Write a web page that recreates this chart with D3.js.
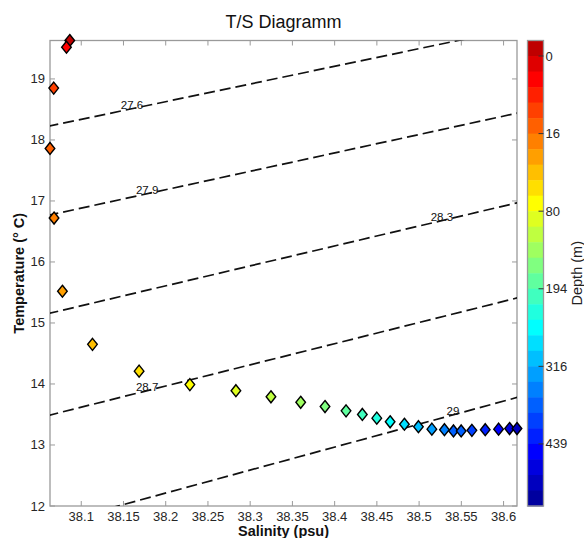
<!DOCTYPE html>
<meta charset="utf-8">
<html>
  <head>
    <style>
      body { margin: 0; background: #fff; }
      text { font-family: "Liberation Sans", Arial, Helvetica, sans-serif; }
      .tick-label { font-size: 13px; fill: #262626; }
      .frame { fill: none; stroke: #9a9a9a; stroke-width: 1.3px; }
      .tick { stroke: #9a9a9a; stroke-width: 1px; }
      .iso { fill: none; stroke: #111; stroke-width: 1.7px; stroke-dasharray: 11,5; }
      .iso-label { font-size: 11.5px; fill: #111; text-anchor: middle; }
      .marker { stroke: #000; stroke-width: 1.4px; }
    </style>
    <script src="https://d3js.org/d3.v7.min.js"></script>
  </head>
  <body>
    <div id="chart"></div>
    <script type="text/javascript">
      // CTD profile
      var salinity = [38.0864, 38.0825, 38.0674, 38.0630, 38.0678, 38.0777, 38.1133, 38.1685,
                      38.2286, 38.2831, 38.3246, 38.3598, 38.3886, 38.4135, 38.4328, 38.4499,
                      38.4657, 38.4826, 38.4992, 38.5151, 38.5300, 38.5407, 38.5498, 38.5625,
                      38.5783, 38.5941, 38.6071, 38.6159];
      var temperature = [19.63, 19.52, 18.85, 17.86, 16.72, 15.52, 14.65, 14.21,
                         13.99, 13.89, 13.79, 13.70, 13.63, 13.56, 13.50, 13.44,
                         13.38, 13.34, 13.30, 13.26, 13.25, 13.23, 13.23, 13.24,
                         13.25, 13.26, 13.27, 13.27];
      var depth = [0, 5, 11, 15, 25, 40, 50, 65,
                   78, 100, 120, 145, 165, 190, 210, 235,
                   260, 285, 310, 335, 360, 370, 388, 405,
                   425, 445, 470, 495];

      // isopycnals (straight over this range): T at both ends of the salinity span
      var isoLabels = ["27.6", "27.9", "28.3", "28.7", "29"];
      var isoSal = [38.06, 38.62];
      var isoTempLeft = [18.222, 16.762, 15.151, 13.481, 11.685];
      var isoTempRight = [19.844, 18.451, 16.982, 15.424, 13.794];
      var isoLabelSal = [38.160, 38.178, 38.527, 38.178, 38.540];

      var xTicks = [38.1, 38.15, 38.2, 38.25, 38.3, 38.35, 38.4, 38.45, 38.5, 38.55, 38.6];
      var yTicks = [12, 13, 14, 15, 16, 17, 18, 19];
      var depthTicks = [0, 16, 80, 194, 316, 439];
      var nColors = 30;

      var W = 584, H = 538,
          plot = { left: 50, right: 517, top: 40.5, bottom: 506 },
          cbar = { left: 527.5, right: 543.5 };

      // MATLAB jet(m), row 0 = dark blue
      function jet(m) {
        var n = Math.ceil(m / 4), u = [], i;
        for (i = 1; i <= n; i++) u.push(i / n);
        for (i = 1; i < n; i++) u.push(1);
        for (i = n; i >= 1; i--) u.push(i / n);
        var g0 = Math.ceil(n / 2) - (m % 4 === 1 ? 1 : 0);
        var rows = d3.range(m).map(function() { return [0, 0, 0]; });
        u.forEach(function(v, k) {
          var g = g0 + k + 1, r = g + n, b = g - n;
          if (r >= 1 && r <= m) rows[r - 1][0] = v;
          if (g >= 1 && g <= m) rows[g - 1][1] = v;
          if (b >= 1 && b <= m) rows[b - 1][2] = v;
        });
        return rows.map(function(c) { return d3.rgb(c[0] * 255, c[1] * 255, c[2] * 255).toString(); });
      }
      var jetColors = jet(nColors);

      var x = d3.scaleLinear().domain(d3.extent(salinity)).range([plot.left, plot.right]);
      var y = d3.scaleLinear().domain([12, d3.max(temperature)]).range([plot.bottom, plot.top]);

      // depth -> position on the colorbar in bands from the top
      var band = d3.scaleLinear().domain(depthTicks).range(depthTicks.map(function(d, i) { return 1 + 5 * i; }));
      var cbY = d3.scaleLinear().domain([0, nColors]).range([plot.top, plot.bottom]);
      function depthColor(d) {
        var b = Math.max(0, Math.min(nColors - 1, Math.ceil(band(d)) - 1));
        return jetColors[nColors - 1 - b];
      }

      var svg = d3.select("#chart").append("svg")
          .attr("width", W)
          .attr("height", H);

      svg.append("defs").append("clipPath").attr("id", "clip")
        .append("rect")
          .attr("x", plot.left).attr("y", plot.top)
          .attr("width", plot.right - plot.left).attr("height", plot.bottom - plot.top);

      // frame + ticks on all four sides
      svg.append("rect").attr("class", "frame")
          .attr("x", plot.left).attr("y", plot.top)
          .attr("width", plot.right - plot.left).attr("height", plot.bottom - plot.top);

      var tl = 5;
      svg.selectAll(".xtick-b").data(xTicks).enter().append("line").attr("class", "tick")
          .attr("x1", x).attr("x2", x).attr("y1", plot.bottom).attr("y2", plot.bottom - tl);
      svg.selectAll(".xtick-t").data(xTicks).enter().append("line").attr("class", "tick")
          .attr("x1", x).attr("x2", x).attr("y1", plot.top).attr("y2", plot.top + tl);
      svg.selectAll(".ytick-l").data(yTicks).enter().append("line").attr("class", "tick")
          .attr("y1", y).attr("y2", y).attr("x1", plot.left).attr("x2", plot.left + tl);
      svg.selectAll(".ytick-r").data(yTicks).enter().append("line").attr("class", "tick")
          .attr("y1", y).attr("y2", y).attr("x1", plot.right).attr("x2", plot.right - tl);

      svg.selectAll(".xlab").data(xTicks).enter().append("text")
          .attr("class", "tick-label")
          .attr("x", x).attr("y", plot.bottom + 14.5)
          .style("text-anchor", "middle")
          .text(function(d) { return d3.format("")(d); });

      svg.selectAll(".ylab").data(yTicks).enter().append("text")
          .attr("class", "tick-label")
          .attr("x", plot.left - 5).attr("y", function(d) { return y(d) + 4.5; })
          .style("text-anchor", "end")
          .text(function(d) { return d; });

      // isopycnals
      var isoData = isoLabels.map(function(l, i) {
        return { label: l, t0: isoTempLeft[i], t1: isoTempRight[i], ls: isoLabelSal[i] };
      });
      var line = d3.line().x(function(p) { return x(p[0]); }).y(function(p) { return y(p[1]); });
      var isoG = svg.append("g").attr("clip-path", "url(#clip)");
      isoG.selectAll(".iso").data(isoData).enter().append("path")
          .attr("class", "iso")
          .attr("d", function(d) { return line([[isoSal[0], d.t0], [isoSal[1], d.t1]]); });
      isoG.selectAll(".iso-label").data(isoData).enter().append("text")
          .attr("class", "iso-label")
          .attr("x", function(d) { return x(d.ls); })
          .attr("y", function(d) {
            var t = d.t0 + (d.t1 - d.t0) * (d.ls - isoSal[0]) / (isoSal[1] - isoSal[0]);
            return y(t) + 0.5;
          })
          .text(function(d) { return d.label; });

      // data markers
      var pts = salinity.map(function(s, i) { return { s: s, t: temperature[i], z: depth[i] }; });
      svg.selectAll(".marker").data(pts).enter().append("path")
          .attr("class", "marker")
          .attr("d", "M0,-6L4.8,0L0,6L-4.8,0Z")
          .attr("transform", function(d) { return "translate(" + x(d.s) + "," + y(d.t) + ")"; })
          .style("fill", function(d) { return depthColor(d.z); });

      // colorbar
      svg.selectAll(".cb").data(d3.range(nColors)).enter().append("rect")
          .attr("x", cbar.left)
          .attr("y", function(i) { return cbY(i); })
          .attr("width", cbar.right - cbar.left)
          .attr("height", function(i) { return cbY(i + 1) - cbY(i) + 0.5; })
          .style("fill", function(i) { return jetColors[nColors - 1 - i]; });
      svg.append("rect").attr("class", "frame")
          .attr("x", cbar.left).attr("y", plot.top)
          .attr("width", cbar.right - cbar.left).attr("height", plot.bottom - plot.top);
      svg.selectAll(".cbtick").data(depthTicks).enter().append("line")
          .attr("x1", cbar.right - 5).attr("x2", cbar.right)
          .attr("y1", function(d) { return cbY(band(d)); })
          .attr("y2", function(d) { return cbY(band(d)); })
          .style("stroke", "#333").style("stroke-width", 1);
      svg.selectAll(".cblab").data(depthTicks).enter().append("text")
          .attr("class", "tick-label")
          .attr("x", cbar.right + 2)
          .attr("y", function(d) { return cbY(band(d)) + 4.5; })
          .text(function(d) { return d; });

      // titles
      svg.append("text")
          .attr("x", (plot.left + plot.right) / 2).attr("y", 28)
          .style("text-anchor", "middle").style("font-size", "18px").style("fill", "#111")
          .text("T/S Diagramm");
      svg.append("text")
          .attr("x", (plot.left + plot.right) / 2).attr("y", 535.5)
          .style("text-anchor", "middle").style("font-size", "14.5px").style("font-weight", "bold").style("fill", "#111")
          .text("Salinity (psu)");
      svg.append("text")
          .attr("transform", "translate(24," + (plot.top + plot.bottom) / 2 + ") rotate(-90)")
          .style("text-anchor", "middle").style("font-size", "14.5px").style("font-weight", "bold").style("fill", "#111")
          .text("Temperature (° C)");
      svg.append("text")
          .attr("transform", "translate(582," + (plot.top + plot.bottom) / 2 + ") rotate(-90)")
          .style("text-anchor", "middle").style("font-size", "14.5px").style("fill", "#222")
          .text("Depth (m)");
    </script>
  </body>
</html>
